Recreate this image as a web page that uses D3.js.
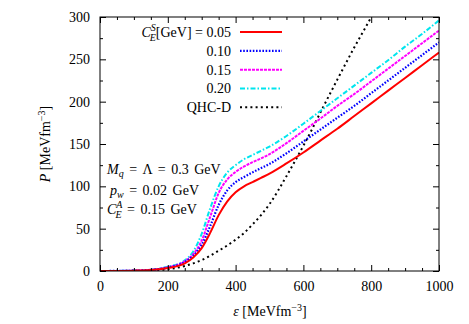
<!DOCTYPE html>
<html><head><meta charset="utf-8">
<script src="https://cdn.jsdelivr.net/npm/d3@7/dist/d3.min.js"></script>
<style>
html,body{margin:0;padding:0;background:#fff;}
</style></head>
<body>
<svg id="c" width="469" height="324" style="font-family:'Liberation Serif','Times New Roman',Times,serif"></svg>
<script>
// ---- data ----
const energy = [0,50,100,150,200,250,275,300,325,350,375,400,425,450,475,500,550,600,650,700,750,800,850,900,950,1000];
const pRed     = [0,0.1,0.4,1.2,3.5,9,16,27,45,66,82,93,100,105,110,115,127,140,154,168,183,198,213,228,243,258];
const pBlue    = [0,0.1,0.4,1.3,4,10.5,18,31,53,78,95,105,111,116.5,121.5,126.5,139,153,167,181,195,210,225,240,255,270];
const pMagenta = [0,0.1,0.5,1.4,4.5,11.5,20,36,64,92,108,117,123.5,128.5,133,138,151,165.5,180,195,209,224,239,254,269,284];
const pCyan    = [0,0.1,0.5,1.5,5,12.5,23,44,74,100,116,125,132,137,142,147,159.5,174,189,204,219,234,249,265,280,296];
const energyQHC = [0,50,100,150,200,250,275,300,325,350,375,400,425,450,475,500,550,600,625,650,700,750,800,850];
const pQHC      = [0,0.1,0.3,0.8,2,6,9,13,18,24,30,37,45,55,66,79,112,148,167,187,226,264,300,340];
const legendLabels = ["0.05","0.10","0.15","0.20","QHC-D"];
const xTicks = [0,200,400,600,800,1000];
const yTicks = [0,50,100,150,200,250,300];

const series = [
  {vals:pRed, x:energy, color:"#ff0000", dash:null, w:2},
  {vals:pBlue, x:energy, color:"#0000ff", dash:"1.6,1.6", w:2.2},
  {vals:pMagenta, x:energy, color:"#ff00ff", dash:"3,1", w:2},
  {vals:pCyan, x:energy, color:"#00e5ee", dash:"5,2,1.5,2", w:2},
  {vals:pQHC, x:energyQHC, color:"#000000", dash:"2,3.2", w:2}
];

const FONT = "'Liberation Serif','Times New Roman',Times,serif";
const svg = d3.select("#c");
const L=100,R=439,T=17,B=271;
const x = d3.scaleLinear().domain([0,1000]).range([L,R]);
const y = d3.scaleLinear().domain([0,300]).range([B,T]);

svg.append("clipPath").attr("id","clip").append("rect")
  .attr("x",L).attr("y",T).attr("width",R-L).attr("height",B-T);

const line = d3.line().curve(d3.curveMonotoneX);
const g = svg.append("g").attr("clip-path","url(#clip)");
series.slice().reverse().forEach(s=>{
  g.append("path")
    .attr("d", line(s.x.map((e,i)=>[x(e), y(s.vals[i])])))
    .attr("fill","none").attr("stroke",s.color).attr("stroke-width",s.w)
    .attr("stroke-dasharray",s.dash);
});

svg.append("rect").attr("x",L).attr("y",T).attr("width",R-L).attr("height",B-T)
  .attr("fill","none").attr("stroke","#000").attr("stroke-width",1);

const minorX = d3.range(0,1001,50).filter(v=>v%200!==0);
const minorY = d3.range(0,301,25).filter(v=>v%50!==0);
const axB = d3.axisBottom(x).tickValues(xTicks).tickSize(-6).tickPadding(10).tickFormat(d3.format("d"));
const axT = d3.axisTop(x).tickValues(xTicks).tickSize(-6).tickFormat("");
const axL = d3.axisLeft(y).tickValues(yTicks).tickSize(-6).tickPadding(10).tickFormat(d3.format("d"));
const axR = d3.axisRight(y).tickValues(yTicks).tickSize(-6).tickFormat("");
const mB = d3.axisBottom(x).tickValues(minorX).tickSize(-3).tickFormat("");
const mT = d3.axisTop(x).tickValues(minorX).tickSize(-3).tickFormat("");
const mL = d3.axisLeft(y).tickValues(minorY).tickSize(-3).tickFormat("");
const mR = d3.axisRight(y).tickValues(minorY).tickSize(-3).tickFormat("");
function put(ax, tr){
  const a = svg.append("g").attr("transform",tr).call(ax);
  a.attr("font-family",FONT);
  a.select(".domain").remove();
  a.selectAll("line").attr("stroke","#000");
  a.selectAll("text").attr("font-size",14).style("font-family",FONT);
  return a;
}
put(axB,`translate(0,${B})`); put(axT,`translate(0,${T})`);
put(axL,`translate(${L},0)`); put(axR,`translate(${R},0)`);
put(mB,`translate(0,${B})`); put(mT,`translate(0,${T})`);
put(mL,`translate(${L},0)`); put(mR,`translate(${R},0)`);

function txt(sel){ return sel.append("text").style("font-family",FONT).attr("font-size",14); }

const xl = txt(svg).attr("x",270).attr("y",316).attr("text-anchor","middle");
xl.append("tspan").attr("font-style","italic").text("ε");
xl.append("tspan").text(" [MeVfm");
xl.append("tspan").attr("dy",-5).attr("font-size",10).text("−3");
xl.append("tspan").attr("dy",5).text("]");

const yl = txt(svg).attr("transform","translate(50,144) rotate(-90)").attr("text-anchor","middle");
yl.append("tspan").attr("font-style","italic").text("P");
yl.append("tspan").text(" [MeVfm");
yl.append("tspan").attr("dy",-5).attr("font-size",10).text("−3");
yl.append("tspan").attr("dy",5).text("]");

const rowY = [32,50.8,69.7,88.4,107.3];
series.forEach((s,i)=>{
  svg.append("line").attr("x1",240).attr("x2",282).attr("y1",rowY[i]).attr("y2",rowY[i])
    .attr("stroke",s.color).attr("stroke-width",s.w).attr("stroke-dasharray",s.dash);
  const t = txt(svg).attr("x",231).attr("y",rowY[i]+5).attr("text-anchor","end");
  if(i===0){
    t.append("tspan").attr("font-style","italic").text("C");
    t.append("tspan").attr("font-style","italic").attr("font-size",10).attr("dy",-6).text("S");
    t.append("tspan").attr("font-style","italic").attr("font-size",10).attr("dx",-6).attr("dy",10).text("E");
    t.append("tspan").attr("dy",-4).text("[GeV] = " + legendLabels[i]);
  } else {
    t.text(legendLabels[i]);
  }
});

const a1 = txt(svg).attr("x",107).attr("y",174).attr("word-spacing",2);
a1.append("tspan").attr("font-style","italic").text("M");
a1.append("tspan").attr("font-style","italic").attr("font-size",10).attr("dy",3).text("q");
a1.append("tspan").attr("dy",-3).text(" = Λ = 0.3 GeV");
const a2 = txt(svg).attr("x",110).attr("y",195).attr("word-spacing",2);
a2.append("tspan").attr("font-style","italic").text("p");
a2.append("tspan").attr("font-style","italic").attr("font-size",10).attr("dy",3).text("w");
a2.append("tspan").attr("dy",-3).text(" = 0.02 GeV");
const a3 = txt(svg).attr("x",107).attr("y",214).attr("word-spacing",2);
a3.append("tspan").attr("font-style","italic").text("C");
a3.append("tspan").attr("font-style","italic").attr("font-size",10).attr("dy",-6).text("A");
a3.append("tspan").attr("font-style","italic").attr("font-size",10).attr("dx",-7).attr("dy",10).text("E");
a3.append("tspan").attr("dy",-4).text(" = 0.15 GeV");
</script>
</body></html>
